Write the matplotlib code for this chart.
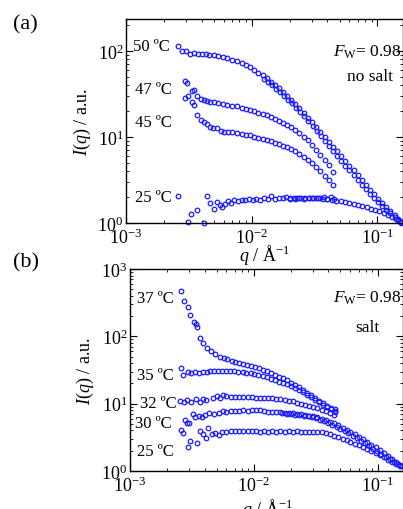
import matplotlib
matplotlib.use('agg')
import matplotlib.pyplot as plt

# ---- panel (a): no salt ----
q50 = [2.57e-3, 2.78e-3, 3.0e-3, 3.26e-3, 3.5e-3, 3.75e-3, 4.0e-3, 4.3e-3, 4.6e-3, 5.0e-3,
       5.4e-3, 5.9e-3, 6.4e-3, 7.0e-3, 7.6e-3, 8.3e-3, 9.0e-3, 9.7e-3, 1.05e-2, 1.13e-2,
       1.22e-2, 1.32e-2, 1.42e-2, 1.53e-2, 1.65e-2, 1.78e-2, 1.92e-2, 2.07e-2, 2.23e-2, 2.4e-2,
       2.6e-2, 2.8e-2, 3.02e-2, 3.26e-2, 3.52e-2, 3.8e-2, 4.1e-2, 4.45e-2, 4.8e-2, 5.17e-2,
       5.57e-2, 6.0e-2, 6.47e-2, 6.97e-2, 7.5e-2, 8.1e-2, 8.7e-2, 9.4e-2, 0.101, 0.109,
       0.118, 0.127, 0.137, 0.147, 0.155]
I50 = [115, 100, 100, 92, 95, 91, 93, 91, 90, 89,
       88, 86, 83, 79, 76, 72, 68, 64.5, 60, 56,
       52, 48, 44, 40, 37, 33.5, 30, 27, 24, 21.5,
       19, 16.8, 14.8, 13.0, 11.4, 10.0, 8.8, 7.7, 6.8, 6.0,
       5.3, 4.65, 4.1, 3.6, 3.15, 2.78, 2.45, 2.16, 1.92, 1.7,
       1.52, 1.37, 1.23, 1.11, 1.03]

q50h = [1.25e-2, 1.35e-2, 1.45e-2, 1.56e-2, 1.68e-2, 1.81e-2, 1.95e-2, 2.1e-2, 2.26e-2, 2.44e-2,
        2.63e-2, 2.83e-2, 3.05e-2, 3.29e-2, 3.55e-2, 3.83e-2, 4.13e-2, 4.45e-2, 4.8e-2, 5.17e-2,
        5.57e-2, 6.0e-2, 6.47e-2, 6.97e-2, 7.5e-2, 8.1e-2, 8.7e-2, 9.4e-2, 0.101, 0.109,
        0.118, 0.127, 0.137, 0.147, 0.155]
I50h = [47, 43.5, 40, 36.5, 33, 30, 27, 24.5, 22, 19.5,
        17.3, 15.3, 13.4, 11.8, 10.3, 9.0, 7.9, 6.9, 6.0, 5.3,
        4.65, 4.1, 3.6, 3.15, 2.8, 2.5, 2.2, 1.97, 1.77, 1.58,
        1.42, 1.3, 1.18, 1.08, 1.0]

q47 = [2.94e-3, 3.08e-3, 3.33e-3, 3.46e-3, 3.7e-3, 3.95e-3, 4.2e-3, 4.45e-3, 4.7e-3, 5.0e-3,
       5.4e-3, 5.9e-3, 6.4e-3, 7.0e-3, 7.6e-3, 8.3e-3, 9.0e-3, 9.7e-3, 1.05e-2, 1.13e-2,
       1.22e-2, 1.32e-2, 1.42e-2, 1.53e-2, 1.65e-2, 1.78e-2, 1.92e-2, 2.07e-2, 2.23e-2, 2.4e-2,
       2.6e-2, 2.8e-2, 3.02e-2, 3.26e-2, 3.52e-2, 3.8e-2, 4.1e-2, 4.45e-2]
I47 = [44.4, 42, 34.5, 35.2, 30.2, 27.7, 26.9, 26, 25.7, 25.5,
       24.8, 24.2, 23.8, 23.1, 22.6, 21.8, 21.2, 20.5, 19.8, 19.1,
       18.5, 17.8, 17.1, 16.3, 15.5, 14.7, 13.8, 12.9, 12.0, 11.1,
       10.1, 9.1, 8.1, 7.1, 6.2, 5.4, 4.7, 3.9]

q45 = [2.97e-3, 3.1e-3, 3.33e-3, 3.46e-3, 3.68e-3, 3.92e-3, 4.15e-3, 4.4e-3, 4.64e-3, 4.95e-3,
       5.3e-3, 5.65e-3, 6.05e-3, 6.5e-3, 7.0e-3, 7.6e-3, 8.3e-3, 9.0e-3, 9.7e-3, 1.05e-2,
       1.13e-2, 1.22e-2, 1.32e-2, 1.42e-2, 1.53e-2, 1.65e-2, 1.78e-2, 1.92e-2, 2.07e-2, 2.23e-2,
       2.4e-2, 2.6e-2, 2.8e-2, 3.02e-2, 3.26e-2, 3.52e-2, 3.8e-2, 4.1e-2, 4.45e-2]
I45 = [28.4, 30.2, 25.7, 23.8, 18.2, 15.8, 14.8, 14.0, 13.2, 12.6,
       12.7, 11.8, 11.5, 11.4, 11.3, 11.0, 10.8, 10.6, 10.4, 10.1,
       9.8, 9.5, 9.2, 8.9, 8.6, 8.3, 7.95, 7.6, 7.2, 6.8,
       6.4, 5.9, 5.4, 4.95, 4.45, 4.0, 3.55, 3.15, 2.8]

q25a = [2.57e-3, 3.09e-3, 3.3e-3, 3.7e-3, 4.17e-3, 4.45e-3, 4.64e-3, 4.99e-3, 5.34e-3, 5.6e-3,
        5.85e-3, 6.1e-3, 6.5e-3, 6.9e-3, 7.3e-3, 7.8e-3, 8.3e-3, 8.9e-3, 9.5e-3, 1.02e-2,
        1.09e-2, 1.17e-2, 1.25e-2, 1.34e-2, 1.43e-2, 1.53e-2, 1.64e-2, 1.76e-2, 1.88e-2, 2.02e-2,
        2.16e-2, 2.31e-2, 2.48e-2, 2.65e-2, 2.84e-2, 3.04e-2, 3.26e-2, 3.49e-2, 3.74e-2, 4.0e-2,
        4.3e-2, 4.55e-2]
I25a = [2.04, 1.03, 1.27, 1.42, 1.0, 2.04, 1.71, 1.46, 1.77, 1.62,
        1.52, 1.66, 1.79, 1.71, 1.87, 1.82, 1.87, 1.85, 1.88, 1.86,
        1.9, 1.87, 1.93, 1.9, 2.04, 1.9, 1.95, 1.93, 1.98, 1.95,
        1.97, 1.93, 1.96, 1.95, 1.94, 1.97, 1.93, 1.96, 2.0, 1.92,
        2.02, 1.9]

q25ah = [2.0e-2, 2.2e-2, 2.4e-2, 2.6e-2, 2.85e-2, 3.1e-2, 3.4e-2, 3.7e-2, 4.0e-2, 4.35e-2,
         4.7e-2, 5.1e-2, 5.5e-2, 6.0e-2, 6.5e-2, 7.0e-2, 7.6e-2, 8.2e-2, 8.9e-2, 9.6e-2,
         0.104, 0.112, 0.121, 0.131, 0.141, 0.152]
I25ah = [1.9, 1.92, 1.93, 1.92, 1.93, 1.95, 1.93, 1.92, 1.9, 1.85,
         1.82, 1.79, 1.76, 1.73, 1.67, 1.62, 1.57, 1.52, 1.47, 1.42,
         1.37, 1.31, 1.25, 1.19, 1.12, 1.05]

# ---- panel (b): salt ----
q37 = [2.56e-3, 2.74e-3, 2.92e-3, 3.05e-3, 3.3e-3, 3.4e-3, 3.45e-3, 3.67e-3, 3.9e-3, 4.2e-3,
       4.5e-3, 4.85e-3, 5.3e-3, 5.7e-3, 6.1e-3, 6.6e-3, 7.1e-3, 7.6e-3, 8.2e-3, 8.8e-3,
       9.5e-3, 1.02e-2, 1.1e-2, 1.18e-2, 1.27e-2, 1.37e-2, 1.48e-2, 1.6e-2, 1.72e-2, 1.85e-2,
       2.0e-2, 2.15e-2, 2.32e-2, 2.5e-2, 2.7e-2, 2.9e-2, 3.13e-2, 3.37e-2, 3.63e-2, 3.9e-2,
       4.2e-2, 4.5e-2, 4.55e-2]
I37 = [468, 339, 277, 210, 162, 152, 139, 93.5, 79.6, 66.4,
       61.5, 54.8, 49.9, 47.5, 45.5, 43.6, 42, 40.5, 39.2, 37.8,
       36.5, 35.2, 33.6, 32, 30.3, 28.6, 26.9, 25.2, 23.7, 22.2,
       20.6, 19.1, 17.5, 16.0, 14.6, 13.3, 12.1, 11.0, 10.1, 9.3,
       8.7, 8.2, 7.6]

q35 = [2.58e-3, 2.7e-3, 2.92e-3, 3.1e-3, 3.35e-3, 3.6e-3, 3.85e-3, 4.15e-3, 4.45e-3, 4.8e-3,
       5.15e-3, 5.55e-3, 6.0e-3, 6.45e-3, 6.95e-3, 7.5e-3, 8.1e-3, 8.7e-3, 9.4e-3, 1.01e-2,
       1.09e-2, 1.18e-2, 1.27e-2, 1.37e-2, 1.48e-2, 1.6e-2, 1.72e-2, 1.85e-2, 2.0e-2, 2.15e-2,
       2.32e-2, 2.5e-2, 2.7e-2, 2.9e-2, 3.13e-2, 3.37e-2, 3.63e-2, 3.9e-2, 4.2e-2, 4.5e-2]
I35 = [33.9, 26.7, 29.3, 28.3, 29.3, 28.8, 29.5, 30, 30.5, 30.8,
       31, 30.9, 30.6, 30.4, 30.1, 29.8, 29.5, 28.9, 28.2, 27.5,
       26.6, 25.6, 24.6, 23.5, 22.4, 21.2, 20.4, 19.4, 18.3, 17.2,
       16.0, 14.8, 13.6, 12.5, 11.5, 10.5, 9.6, 8.9, 8.3, 7.8]

q32 = [2.53e-3, 2.72e-3, 2.86e-3, 3.1e-3, 3.4e-3, 3.67e-3, 3.9e-3, 4.1e-3, 4.64e-3, 5.0e-3,
       5.35e-3, 5.6e-3, 6.0e-3, 6.5e-3, 7.0e-3, 7.6e-3, 8.2e-3, 8.9e-3, 9.6e-3, 1.04e-2,
       1.12e-2, 1.21e-2, 1.31e-2, 1.41e-2, 1.52e-2, 1.64e-2, 1.77e-2, 1.91e-2, 2.06e-2, 2.22e-2,
       2.4e-2, 2.6e-2, 2.8e-2, 3.02e-2, 3.26e-2, 3.52e-2, 3.8e-2, 4.1e-2, 4.45e-2]
I32 = [11.1, 10.7, 11.3, 10.7, 11.7, 10.5, 11.7, 11.2, 12.2, 12.9,
       12.2, 13.5, 12.8, 12.6, 12.7, 12.5, 12.4, 12.5, 12.4, 12.3,
       12.3, 12.2, 12.1, 12.0, 11.8, 11.6, 11.4, 11.1, 10.8, 10.4,
       10.0, 9.6, 9.3, 8.9, 8.5, 8.1, 7.7, 7.3, 6.9]

q30 = [2.76e-3, 2.86e-3, 3.0e-3, 3.2e-3, 3.34e-3, 3.6e-3, 3.8e-3, 4.0e-3, 4.35e-3, 4.8e-3,
       5.2e-3, 5.6e-3, 6.0e-3, 6.5e-3, 7.0e-3, 7.6e-3, 8.2e-3, 8.9e-3, 9.6e-3, 1.04e-2,
       1.12e-2, 1.21e-2, 1.31e-2, 1.41e-2, 1.52e-2, 1.64e-2, 1.77e-2, 1.91e-2, 2.06e-2, 2.22e-2,
       2.4e-2, 2.6e-2, 2.8e-2, 3.02e-2, 3.26e-2, 3.52e-2, 3.8e-2, 4.1e-2, 4.45e-2, 4.8e-2,
       5.2e-2, 5.6e-2, 6.0e-2, 6.5e-2, 7.0e-2, 7.6e-2, 8.2e-2, 8.9e-2, 9.6e-2, 0.104,
       0.112, 0.121, 0.131, 0.141, 0.152]
I30 = [5.73, 5.17, 5.17, 7.03, 6.3, 6.64, 6.3, 6.7, 7.2, 7.03,
       7.3, 7.87, 7.6, 7.7, 7.9, 7.8, 8.0, 7.9, 8.15, 7.95,
       8.0, 7.8, 7.6, 7.65, 7.5, 7.45, 7.35, 7.3, 7.2, 7.1,
       6.95, 6.8, 6.6, 6.5, 6.3, 6.0, 5.7, 5.4, 5.1, 4.75,
       4.4, 4.1, 3.8, 3.5, 3.2, 2.95, 2.7, 2.45, 2.25, 2.05,
       1.85, 1.67, 1.5, 1.36, 1.24]

q30h = [1.7e-2, 1.85e-2, 2.0e-2, 2.16e-2, 2.33e-2, 2.52e-2, 2.72e-2, 2.94e-2, 3.17e-2, 3.42e-2,
        3.7e-2, 4.0e-2, 4.3e-2, 4.65e-2, 5.0e-2, 5.4e-2, 5.8e-2, 6.3e-2, 6.8e-2, 7.3e-2,
        7.9e-2, 8.5e-2, 9.2e-2, 9.9e-2, 0.107, 0.116, 0.125, 0.135, 0.146, 0.156]
I30h = [7.2, 7.1, 7.0, 6.9, 6.8, 6.6, 6.45, 6.25, 6.05, 5.8,
        5.5, 5.2, 4.9, 4.55, 4.25, 3.95, 3.65, 3.35, 3.08, 2.82,
        2.58, 2.36, 2.15, 1.97, 1.8, 1.63, 1.49, 1.37, 1.26, 1.17]

q25b = [2.58e-3, 2.7e-3, 2.92e-3, 3.05e-3, 3.45e-3, 3.67e-3, 3.9e-3, 4.1e-3, 4.3e-3, 4.55e-3,
        4.85e-3, 5.2e-3, 5.55e-3, 6.0e-3, 6.5e-3, 7.0e-3, 7.6e-3, 8.2e-3, 8.9e-3, 9.6e-3,
        1.04e-2, 1.12e-2, 1.21e-2, 1.31e-2, 1.41e-2, 1.52e-2, 1.64e-2, 1.77e-2, 1.91e-2, 2.06e-2,
        2.22e-2, 2.4e-2, 2.6e-2, 2.8e-2, 3.02e-2, 3.26e-2, 3.52e-2, 3.8e-2, 4.1e-2, 4.45e-2,
        4.8e-2, 5.2e-2, 5.6e-2, 6.0e-2, 6.5e-2, 7.0e-2, 7.6e-2, 8.2e-2, 8.9e-2, 9.6e-2,
        0.104, 0.112, 0.121, 0.131, 0.141, 0.152]
I25b = [4.07, 3.63, 2.3, 2.76, 2.58, 3.89, 3.55, 3.06, 4.3, 3.55,
        3.63, 3.46, 3.84, 3.84, 3.9, 3.92, 3.97, 3.95, 3.9, 3.95,
        3.9, 3.85, 3.95, 3.8, 3.9, 3.85, 3.9, 3.85, 3.9, 3.85,
        3.88, 3.84, 3.8, 3.85, 3.78, 3.8, 3.75, 3.65, 3.5, 3.3,
        3.15, 3.0, 2.85, 2.7, 2.55, 2.4, 2.25, 2.1, 1.98, 1.85,
        1.72, 1.6, 1.48, 1.37, 1.27, 1.18]

plt.rcParams['font.family'] = ['Liberation Serif', 'DejaVu Serif']
plt.rcParams['mathtext.fontset'] = 'custom'
plt.rcParams['mathtext.rm'] = 'Liberation Serif'
plt.rcParams['mathtext.it'] = 'Liberation Serif:italic'
plt.rcParams['mathtext.bf'] = 'Liberation Serif:bold'

blue = '#1a1aff'
mk = dict(linestyle='none', marker='o', markersize=3.3, markerfacecolor='none',
          markeredgecolor=blue, markeredgewidth=0.9, clip_on=False)

fig = plt.figure(figsize=(4.03, 5.10), dpi=100)
ax1 = fig.add_axes([126 / 403, 1 - 224 / 510, 277 / 403, 204 / 510])
ax2 = fig.add_axes([130 / 403, 1 - 472 / 510, 273 / 403, 202 / 510])

for q, I in [(q50, I50), (q50h, I50h), (q47, I47), (q45, I45), (q25a, I25a), (q25ah, I25ah)]:
    ax1.plot(q, I, **mk)
for q, I in [(q37, I37), (q35, I35), (q32, I32), (q30, I30), (q30h, I30h), (q25b, I25b)]:
    ax2.plot(q, I, **mk)

ax1.set_ylim(1, 235)
ax2.set_ylim(1, 1000)

for ax in (ax1, ax2):
    ax.set_xscale('log')
    ax.set_yscale('log')
    ax.set_xlim(1e-3, 0.16)
    ax.tick_params(which='both', direction='in', top=True, right=True, labelsize=13, pad=3)
    ax.tick_params(which='major', length=5, width=0.8)
    ax.tick_params(which='minor', length=2.5, width=0.6)
    ax.tick_params(axis='y', pad=2)
    for s in ax.spines.values():
        s.set_linewidth(1.0)
    ax.set_ylabel('$I$($q$) / a.u.', fontsize=13)
    ax.set_xlabel('$q$ / Å$^{-1}$', fontsize=13)

ax1.yaxis.set_label_coords(-0.12, 0.5)
ax1.xaxis.set_label_coords(0.5, -0.093)
ax2.yaxis.set_label_coords(-0.125, 0.5)
ax2.xaxis.set_label_coords(0.505, -0.124)

tk = dict(fontsize=12, va='center', ha='left')
ax1.text(0.025, 0.868, '50 ºC', transform=ax1.transAxes, **tk)
ax1.text(0.032, 0.657, '47 ºC', transform=ax1.transAxes, **tk)
ax1.text(0.032, 0.495, '45 ºC', transform=ax1.transAxes, **tk)
ax1.text(0.032, 0.127, '25 ºC', transform=ax1.transAxes, **tk)
ax1.text(0.995, 0.843, '$F_{\\mathrm{W}}$= 0.98', transform=ax1.transAxes,
         fontsize=12.5, ha='right', va='center')
ax1.text(0.88, 0.72, 'no salt', transform=ax1.transAxes, fontsize=12.5, ha='center', va='center')

ax2.text(0.026, 0.856, '37 ºC', transform=ax2.transAxes, **tk)
ax2.text(0.026, 0.475, '35 ºC', transform=ax2.transAxes, **tk)
ax2.text(0.037, 0.337, '32 ºC', transform=ax2.transAxes, **tk)
ax2.text(0.018, 0.238, '30 ºC', transform=ax2.transAxes, **tk)
ax2.text(0.026, 0.099, '25 ºC', transform=ax2.transAxes, **tk)
ax2.text(0.995, 0.861, '$F_{\\mathrm{W}}$= 0.98', transform=ax2.transAxes,
         fontsize=12.5, ha='right', va='center')
ax2.text(0.868, 0.713, 'salt', transform=ax2.transAxes, fontsize=12.5, ha='center', va='center')

fig.text(13 / 403, 1 - 25 / 510, '(a)', fontsize=16, ha='left', va='center')
fig.text(13 / 403, 1 - 263 / 510, '(b)', fontsize=16, ha='left', va='center')

fig.savefig('out.png', dpi=100)
